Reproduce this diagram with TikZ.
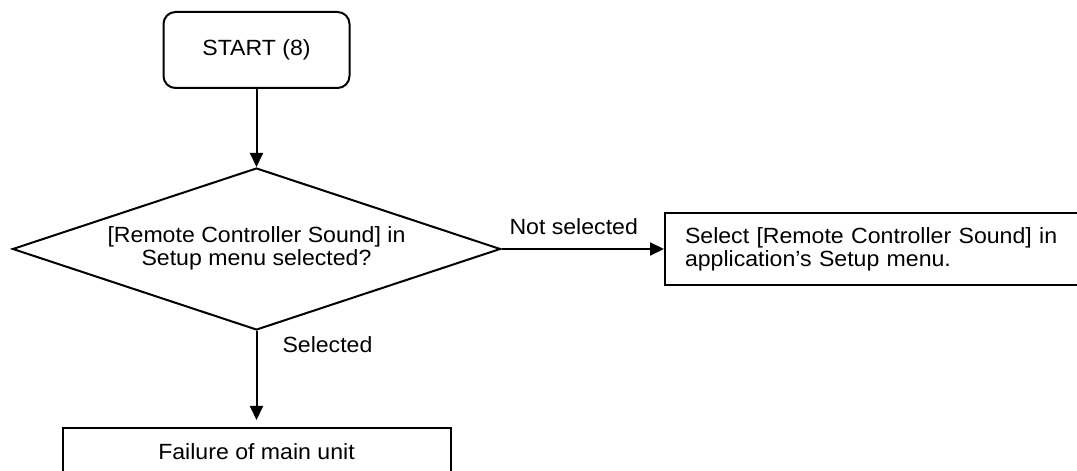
\documentclass[tikz,border=0pt]{standalone}
\usepackage{fontspec}
\setmainfont{Liberation Sans}[FakeStretch=1.05]
\usetikzlibrary{shapes.geometric,arrows.meta,calc}
\begin{document}
\begin{tikzpicture}[x=1pt,y=1pt,line width=2pt,
  txt/.style={font=\fontsize{22}{23}\selectfont},
  startbox/.style={draw,rounded corners=12pt,minimum width=186pt,minimum height=76pt,inner sep=0pt,txt},
  decbox/.style={draw,diamond,aspect=3,minimum width=488pt,minimum height=162pt,inner sep=0pt,align=center,txt},
  procbox/.style={draw,rectangle,inner sep=0pt,txt},
  arr/.style={-{Triangle[length=14pt,width=13pt]}},
  lbl/.style={txt,inner sep=0pt}]
\useasboundingbox (0,0) rectangle (1077,471);
\clip (0,0) rectangle (1077,471);
\node[startbox] (start) at (256.5,421) {START (8)};
\node[decbox] (dec) at (256.5,222) {\raisebox{-3pt}{\begin{tabular}{@{}c@{}}[Remote Controller Sound] in\\Setup menu selected?\end{tabular}}};
\node[procbox,anchor=west,minimum width=440pt,minimum height=72pt,text width=400pt,align=left] (sel) at (664,222) {Select [Remote Controller Sound] in\\application’s Setup menu.};
\node[procbox,anchor=north,minimum width=388pt,minimum height=48pt] (fail) at (256.5,44) {Failure of main unit};
\draw[arr] (start.south) -- (dec.north);
\draw[arr] (dec.east) -- (sel.west);
\draw[arr,shorten >=7pt] (dec.south) -- (fail.north);
\node[lbl,anchor=base west] (ns) at ($(dec.east)+(7,14)$) {Not selected};
\node[lbl,anchor=base west] (sl) at ($(dec.south)+(25,-22)$) {Selected};
\end{tikzpicture}
\end{document}
